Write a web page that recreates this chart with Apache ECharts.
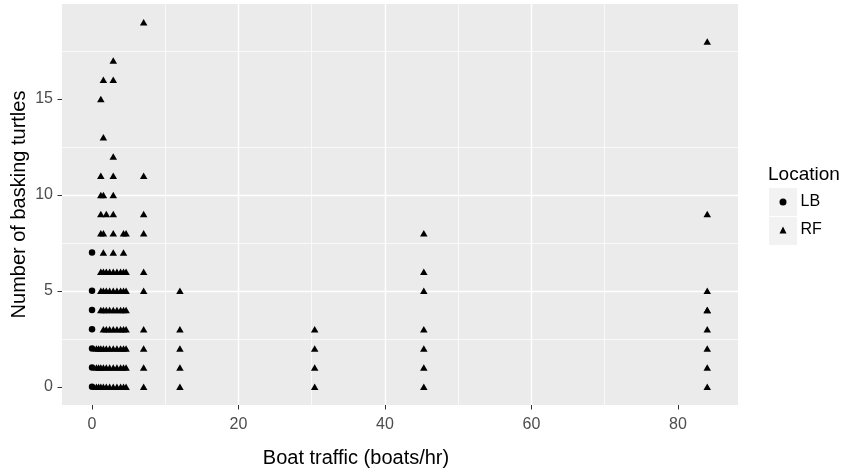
<!DOCTYPE html>
<html>
<head>
<meta charset="utf-8">
<script src="https://cdn.jsdelivr.net/npm/echarts@6/dist/echarts.min.js"></script>
<style>
html,body{margin:0;padding:0;background:#fff;}
#chart{width:841px;height:474px;}
</style>
</head>
<body>
<div id="chart"></div>
<script>
// Data
const lbTraffic = [0, 0, 0, 0, 0, 0, 0];
const lbTurtles = [0, 1, 2, 3, 4, 5, 7];

const rfTraffic = [
  // y = 0
  0.6, 0.9, 1.2, 1.55, 1.95, 2.4, 2.9, 3.4, 3.9, 4.3, 4.65, 7.05, 12, 30.4, 45.3, 84,
  // y = 1
  0.6, 0.9, 1.2, 1.55, 1.95, 2.4, 2.9, 3.4, 3.9, 4.3, 4.65, 7.05, 12, 30.4, 45.3, 84,
  // y = 2
  0.6, 0.9, 1.2, 1.55, 1.95, 2.4, 2.9, 3.4, 3.9, 4.3, 4.65, 7.05, 12, 30.4, 45.3, 84,
  // y = 3
  1.55, 1.95, 2.4, 2.9, 3.4, 3.9, 4.3, 4.65, 7.05, 12, 30.4, 45.3, 84,
  // y = 4
  1.2, 1.55, 1.95, 2.4, 2.9, 3.4, 3.9, 4.3, 4.65, 84, 84,
  // y = 5
  1.2, 1.55, 1.95, 2.4, 2.9, 3.4, 3.9, 4.3, 4.65, 7.05, 12, 45.3, 84,
  // y = 6
  1.2, 1.55, 1.95, 2.4, 2.9, 3.4, 3.9, 4.3, 4.65, 7.05, 45.3,
  // y = 7
  1.55, 2.9, 4.3,
  // y = 8
  1.2, 1.55, 2.9, 4.3, 4.65, 7.05, 45.3,
  // y = 9
  1.2, 1.95, 2.9, 7.05, 84,
  // y = 10
  1.2, 1.55, 2.9,
  // y = 11
  1.2, 2.9, 7.05,
  // y = 12
  2.9,
  // y = 13
  1.55,
  // y = 15
  1.2,
  // y = 16
  1.55, 2.9,
  // y = 17
  2.9,
  // y = 18
  84,
  // y = 19
  7.05
];
const rfTurtles = [
  0,0,0,0,0,0,0,0,0,0,0,0,0,0,0,0,
  1,1,1,1,1,1,1,1,1,1,1,1,1,1,1,1,
  2,2,2,2,2,2,2,2,2,2,2,2,2,2,2,2,
  3,3,3,3,3,3,3,3,3,3,3,3,3,
  4,4,4,4,4,4,4,4,4,4,4,
  5,5,5,5,5,5,5,5,5,5,5,5,5,
  6,6,6,6,6,6,6,6,6,6,6,
  7,7,7,
  8,8,8,8,8,8,8,
  9,9,9,9,9,
  10,10,10,
  11,11,11,
  12,
  13,
  15,
  16,16,
  17,
  18,
  19
];

const xTicks = [0, 20, 40, 60, 80];
const yTicks = [0, 5, 10, 15];
const locations = ['LB', 'RF'];

const FONT = '"Liberation Sans", Arial, sans-serif';

function pairs(xs, ys) { return xs.map((x, i) => [x, ys[i]]); }

const chart = echarts.init(document.getElementById('chart'), null, {renderer: 'canvas'});

const axisCommon = {
  axisLine: {show: false, onZero: false},
  axisTick: {show: true, length: 4.5, lineStyle: {color: '#333333', width: 1}},
  splitLine: {show: true, showMinLine: false, showMaxLine: false, lineStyle: {color: '#FFFFFF', width: 1.4}},
  minorTick: {show: false, splitNumber: 2},
  minorSplitLine: {show: true, lineStyle: {color: '#FFFFFF', width: 0.7}},
  nameTextStyle: {color: '#000000', fontSize: 20, fontFamily: FONT}
};

chart.setOption({
  animation: false,
  backgroundColor: '#FFFFFF',
  title: {
    text: 'Location', left: 768, top: 165, padding: 0,
    textStyle: {fontSize: 19, fontWeight: 'normal', color: '#000000', fontFamily: FONT}
  },
  legend: {
    orient: 'vertical', left: 779.5, top: 194, padding: 0,
    itemWidth: 7, itemHeight: 7, itemGap: 12,
    data: [{name: locations[0], icon: 'circle'}, {name: locations[1], icon: 'triangle'}],
    textStyle: {fontSize: 16, color: '#000000', fontFamily: FONT, padding: [0, 0, 0, 9]},
    itemStyle: {color: '#000000'},
    selectedMode: false
  },
  graphic: [
    {type: 'rect', shape: {x: 769, y: 188, width: 28, height: 28}, style: {fill: '#F2F2F2'}, z: -1},
    {type: 'rect', shape: {x: 769, y: 217, width: 28, height: 28}, style: {fill: '#F2F2F2'}, z: -1}
  ],
  grid: {
    left: 62, right: 103, top: 4, bottom: 69,
    outerBoundsMode: 'none', containLabel: false,
    show: true, backgroundColor: '#EBEBEB', borderWidth: 0
  },
  xAxis: Object.assign({}, axisCommon, {
    type: 'value', min: -4.1, max: 88.2, splitNumber: 5,
    name: 'Boat traffic (boats/hr)', nameLocation: 'middle', nameGap: 43,
    nameTextStyle: Object.assign({}, axisCommon.nameTextStyle, {padding: [0, 88, 0, 0]}),
    axisTick: Object.assign({}, axisCommon.axisTick, {customValues: xTicks}),
    axisLabel: {customValues: xTicks, margin: 12, fontSize: 16, color: '#4D4D4D', fontFamily: FONT}
  }),
  yAxis: Object.assign({}, axisCommon, {
    type: 'value', min: -0.95, max: 19.95, splitNumber: 4,
    name: 'Number of basking turtles', nameLocation: 'middle', nameGap: 33,
    nameMoveOverlap: false,
    axisTick: Object.assign({}, axisCommon.axisTick, {customValues: yTicks}),
    axisLabel: {customValues: yTicks, margin: 9, fontSize: 16, color: '#4D4D4D', fontFamily: FONT}
  }),
  series: [
    {
      name: locations[0], type: 'scatter', symbol: 'circle', symbolSize: 6.5,
      itemStyle: {color: '#000000', opacity: 1},
      emphasis: {disabled: true}, silent: true,
      data: pairs(lbTraffic, lbTurtles)
    },
    {
      name: locations[1], type: 'scatter', symbol: 'triangle', symbolSize: [7.5, 6.5],
      itemStyle: {color: '#000000', opacity: 1},
      emphasis: {disabled: true}, silent: true,
      data: pairs(rfTraffic, rfTurtles)
    }
  ]
});
</script>
</body>
</html>
